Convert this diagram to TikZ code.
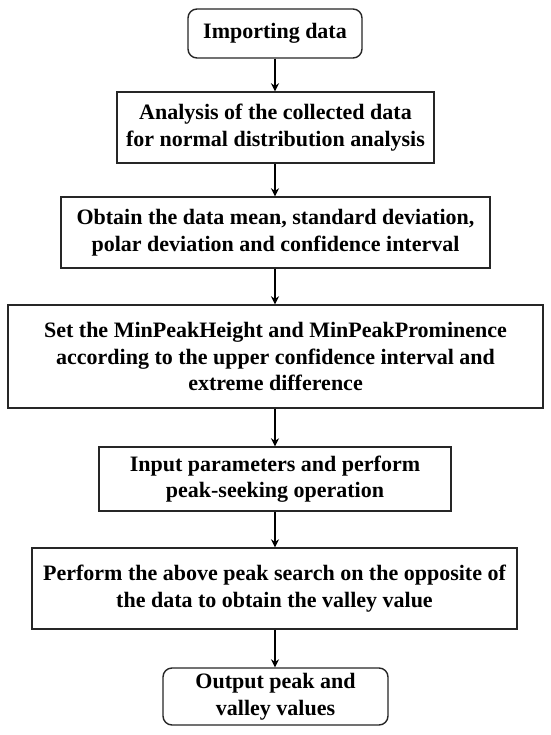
\documentclass[tikz,border=0pt]{standalone}
\usepackage{fontspec}
\setmainfont{Liberation Serif}
\newfontfamily\tnr{Liberation Serif}
\usetikzlibrary{arrows.meta}
\begin{document}
\begin{tikzpicture}[x=1pt,y=-1pt,
  box/.style={draw=black!85, line width=1.4pt, fill=white, inner sep=0pt, align=center,
    font=\tnr\bfseries\fontsize{22}{26.5}\selectfont},
  rbox/.style={box, rounded corners=9pt},
  arr/.style={draw=black, line width=1.8pt, -{Stealth[length=8pt,width=8pt]}}]
\useasboundingbox (0,0) rectangle (550,735);
\node[rbox, minimum width=174pt, minimum height=49pt] (b1) at (275,33.5) {Importing data};
\node[box, minimum width=317pt, minimum height=71pt] (b2) at (275.5,127.5) {Analysis of the collected data\\for normal distribution analysis};
\node[box, minimum width=429pt, minimum height=71pt] (b3) at (275.5,232.5) {Obtain the data mean, standard deviation,\\polar deviation and confidence interval};
\node[box, minimum width=535pt, minimum height=103pt] (b4) at (275.5,356.5) {Set the MinPeakHeight and MinPeakProminence\\according to the upper confidence interval and\\extreme difference};
\node[box, minimum width=352pt, minimum height=64pt] (b5) at (275,479) {Input parameters and perform\\peak-seeking operation};
\node[box, minimum width=485pt, minimum height=81pt] (b6) at (274.5,588.5) {Perform the above peak search on the opposite of\\the data to obtain the valley value};
\node[rbox, minimum width=225pt, minimum height=57pt] (b7) at (275.5,696.5) {Output peak and\\valley values};
\draw[arr] (b1.south) -- (b1.south |- b2.north);
\draw[arr] (b1.south |- b2.south) -- (b1.south |- b3.north);
\draw[arr] (b1.south |- b3.south) -- (b1.south |- b4.north);
\draw[arr] (b1.south |- b4.south) -- (b1.south |- b5.north);
\draw[arr] (b1.south |- b5.south) -- (b1.south |- b6.north);
\draw[arr] (b1.south |- b6.south) -- (b1.south |- b7.north);
\end{tikzpicture}
\end{document}
